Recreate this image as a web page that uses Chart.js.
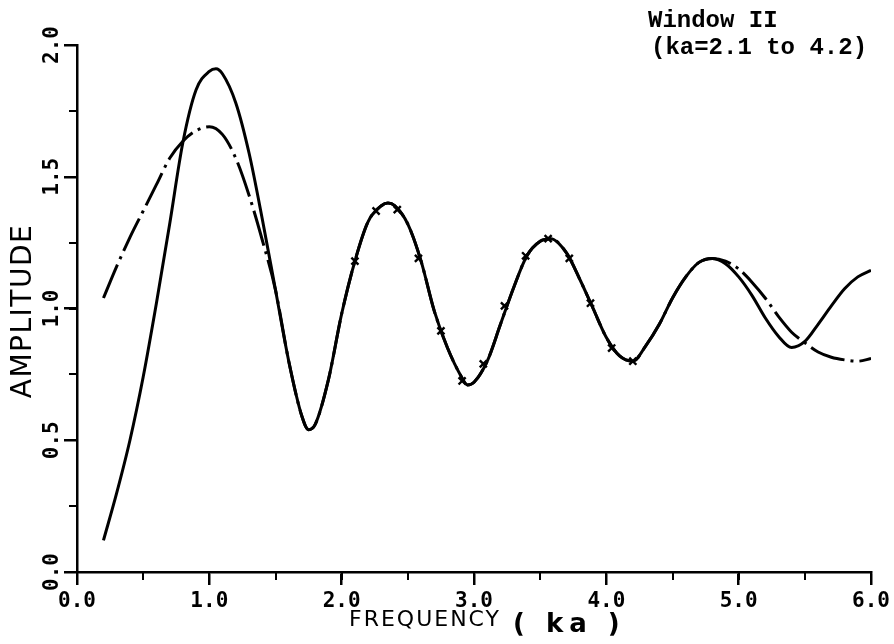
<!DOCTYPE html>
<html><head><meta charset="utf-8">
<script src="https://cdn.jsdelivr.net/npm/chart.js@4.4.1/dist/chart.umd.min.js"></script>
<style>html,body{margin:0;padding:0;background:#fff;overflow:hidden}canvas{display:block}</style>
</head><body>
<canvas id="c" width="894" height="644"></canvas>
<script>
// ---- data ----
const solidKa = [0.2,0.3,0.4,0.5,0.6,0.7,0.8,0.9,1.0,1.05,1.1,1.2,1.3,1.4,1.5,1.6,1.7,1.75,1.8,1.9,2.0,2.1,2.2,2.3,2.35,2.4,2.5,2.6,2.7,2.8,2.9,2.95,3.0,3.1,3.2,3.3,3.4,3.5,3.58,3.7,3.8,3.9,4.0,4.1,4.2,4.3,4.4,4.5,4.6,4.7,4.8,4.9,5.0,5.1,5.2,5.3,5.4,5.5,5.6,5.7,5.8,5.9,6.0];
const solidAmp = [0.12,0.30,0.50,0.74,1.02,1.32,1.63,1.83,1.90,1.91,1.89,1.78,1.59,1.34,1.07,0.80,0.59,0.54,0.56,0.73,0.98,1.18,1.33,1.39,1.40,1.39,1.32,1.18,0.99,0.85,0.745,0.71,0.72,0.80,0.94,1.08,1.20,1.255,1.265,1.21,1.11,1.00,0.89,0.82,0.80,0.86,0.94,1.04,1.12,1.175,1.19,1.17,1.12,1.05,0.965,0.895,0.852,0.875,0.94,1.01,1.075,1.12,1.145];
const dashKa = [0.2,0.3,0.4,0.5,0.6,0.7,0.8,0.9,1.0,1.1,1.2,1.3,1.4,1.5,1.6,1.7,1.75,1.8,1.9,2.0,2.1,2.2,2.3,2.35,2.4,2.5,2.6,2.7,2.8,2.9,2.95,3.0,3.1,3.2,3.3,3.4,3.5,3.58,3.7,3.8,3.9,4.0,4.1,4.2,4.3,4.4,4.5,4.6,4.7,4.8,4.9,5.0,5.1,5.2,5.3,5.4,5.5,5.6,5.7,5.8,5.9,6.0];
const dashAmp = [1.04,1.16,1.27,1.37,1.47,1.57,1.635,1.675,1.69,1.66,1.57,1.43,1.26,1.07,0.80,0.59,0.54,0.56,0.73,0.98,1.18,1.33,1.39,1.40,1.39,1.32,1.18,0.99,0.85,0.745,0.71,0.72,0.80,0.94,1.08,1.20,1.255,1.265,1.21,1.11,1.00,0.89,0.82,0.80,0.86,0.94,1.04,1.12,1.175,1.19,1.18,1.15,1.10,1.04,0.97,0.91,0.87,0.835,0.815,0.805,0.80,0.81];
const markKa = [2.10,2.26,2.42,2.58,2.75,2.91,3.07,3.23,3.39,3.56,3.72,3.88,4.04,4.20];
const markAmp = [1.18,1.37,1.375,1.19,0.915,0.725,0.79,1.01,1.20,1.265,1.19,1.02,0.85,0.80];

const xTicks = [0,1,2,3,4,5,6];
const xTickLabels = ['0.0','1.0','2.0','3.0','4.0','5.0','6.0'];
const yTicks = [0,0.5,1.0,1.5,2.0];
const yTickLabels = ['0.0','0.5','1.0','1.5','2.0'];
const yTitle = 'AMPLITUDE';
const xTitle = 'FREQUENCY';
const xUnit = '( ka )';
const noteLines = ['Window II', '(ka=2.1 to 4.2)'];

const BLACK = '#000';
const tickFont = { family: '"DejaVu Sans Mono"', size: 21, weight: 'bold' };

const textPlugin = {
  id: 'texts',
  afterDraw(chart) {
    const c = chart.ctx;
    c.save();
    c.fillStyle = BLACK;
    // y-axis title
    c.save();
    c.translate(24, 311);
    c.rotate(-Math.PI / 2);
    c.font = '28px "DejaVu Sans"';
    c.letterSpacing = '1.5px';
    c.textAlign = 'center';
    c.textBaseline = 'middle';
    c.fillText(yTitle, 0, 0);
    c.restore();
    // x-axis title
    c.save();
    c.font = '22px "DejaVu Sans"';
    c.letterSpacing = '2px';
    c.textAlign = 'left';
    c.textBaseline = 'alphabetic';
    c.fillText(xTitle, 349, 626);
    c.font = 'bold 26px "DejaVu Sans"';
    c.letterSpacing = '6px';
    c.fillText(xUnit, 513, 632);
    c.restore();
    // note
    c.save();
    c.font = 'bold 24px "Liberation Mono"';
    c.textAlign = 'left';
    c.textBaseline = 'alphabetic';
    c.fillText(noteLines[0], 648, 27);
    c.fillText(noteLines[1], 651, 54);
    c.restore();
    c.restore();
  }
};

new Chart(document.getElementById('c'), {
  type: 'scatter',
  data: {
    datasets: [
      { label: 'Window II samples', data: markKa.map((x, i) => ({ x, y: markAmp[i] })),
        showLine: false, pointStyle: 'crossRot', pointRadius: 5, pointBorderWidth: 2.4,
        pointBorderColor: BLACK, pointBackgroundColor: BLACK, order: 0 },
      { label: 'Solid', data: solidKa.map((x, i) => ({ x, y: solidAmp[i] })),
        showLine: true, borderColor: BLACK, borderWidth: 3, pointRadius: 0,
        cubicInterpolationMode: 'monotone', fill: false, order: 1 },
      { label: 'Dash-dot', data: dashKa.map((x, i) => ({ x, y: dashAmp[i] })),
        showLine: true, borderColor: BLACK, borderWidth: 3, borderDash: [36, 6, 3, 6], pointRadius: 0,
        cubicInterpolationMode: 'monotone', fill: false, order: 2 }
    ]
  },
  options: {
    responsive: false, animation: false, devicePixelRatio: 1,
    layout: { padding: { left: 0, right: 21, top: 45, bottom: 0 } },
    plugins: { legend: { display: false }, tooltip: { enabled: false } },
    scales: {
      x: {
        type: 'linear', position: 'bottom', min: 0, max: 6, weight: 1,
        afterBuildTicks: s => { s.ticks = xTicks.map(v => ({ value: v })); },
        ticks: { color: BLACK, font: tickFont, padding: 4, maxRotation: 0, minRotation: 0,
                 callback: (v, i) => xTickLabels[i] },
        grid: { drawOnChartArea: false, drawTicks: true, tickLength: 13, color: BLACK, lineWidth: 2.5 },
        border: { display: true, color: BLACK, width: 2.5 },
        afterFit: s => { s.height = 72; }
      },
      xMinor: {
        type: 'linear', axis: 'x', position: 'bottom', min: 0, max: 6, weight: 0,
        ticks: { display: false, stepSize: 0.5 },
        grid: { drawOnChartArea: false, drawTicks: true, tickLength: 8, color: BLACK, lineWidth: 2 },
        border: { display: false },
        afterFit: s => { s.height = 0; }
      },
      y: {
        type: 'linear', position: 'left', min: 0, max: 2, weight: 1,
        afterBuildTicks: s => { s.ticks = yTicks.map(v => ({ value: v })); },
        ticks: { color: BLACK, font: tickFont, padding: -8, minRotation: 90, maxRotation: 90,
                 crossAlign: 'center', callback: (v, i) => yTickLabels[i] },
        grid: { drawOnChartArea: false, drawTicks: true, tickLength: 13, color: BLACK, lineWidth: 2.5 },
        border: { display: true, color: BLACK, width: 2.5 },
        afterFit: s => { s.width = 77; }
      },
      yMinor: {
        type: 'linear', axis: 'y', position: 'left', min: 0, max: 2, weight: 0,
        ticks: { display: false, stepSize: 0.25 },
        grid: { drawOnChartArea: false, drawTicks: true, tickLength: 8, color: BLACK, lineWidth: 2 },
        border: { display: false },
        afterFit: s => { s.width = 0; }
      }
    }
  },
  plugins: [textPlugin]
});
</script>
</body></html>
